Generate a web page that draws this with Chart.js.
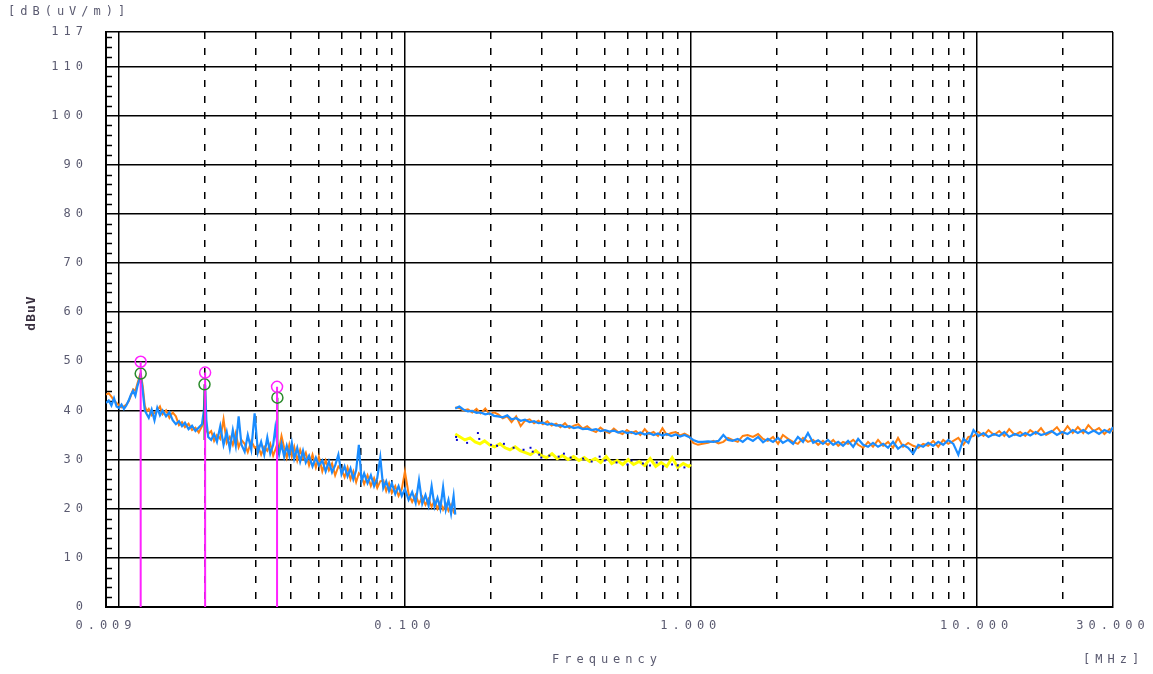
<!DOCTYPE html>
<html>
<head>
<meta charset="utf-8">
<script src="https://cdn.jsdelivr.net/npm/chart.js@4/dist/chart.umd.min.js"></script>
<style>
  html, body { margin: 0; background: #fff; }
  #wrap { width: 1153px; height: 674px; }
</style>
</head>
<body>
<div id="wrap"><canvas id="c" width="1153" height="674"></canvas></div>
<script>
// axis ticks
const xTickValues = [0.009, 0.01, 0.02, 0.03, 0.04, 0.05, 0.06, 0.07, 0.08, 0.09,
  0.1, 0.2, 0.3, 0.4, 0.5, 0.6, 0.7, 0.8, 0.9,
  1, 2, 3, 4, 5, 6, 7, 8, 9,
  10, 20, 30];
const xTickLabels = ['0.009', '', '', '', '', '', '', '', '', '',
  '0.100', '', '', '', '', '', '', '', '',
  '1.000', '', '', '', '', '', '', '', '',
  '10.000', '', '30.000'];
const xSolid = [0.009, 0.01, 0.1, 1, 10, 30];
const yTickValues = [0, 10, 20, 30, 40, 50, 60, 70, 80, 90, 100, 110, 117];

// 9 kHz - 150 kHz scan (MHz, dBuV)
const freqLow = [
  0.0090,0.0092,0.0094,0.0096,0.0098,0.0100,0.0102,0.0104,0.0106,0.0108,
  0.0110,0.0112,0.0114,0.0116,0.0118,0.0119,0.0121,0.0123,0.0125,0.0127,
  0.0130,0.0133,0.0136,0.0139,0.0142,0.0146,0.0150,0.0154,0.0158,0.0162,
  0.0166,0.0170,0.0175,0.0180,0.0185,0.0190,0.0195,0.0198,0.0200,0.0202,
  0.0205,0.0210,0.0215,0.0220,0.0226,0.0232,0.0238,0.0244,0.0250,0.0256,
  0.0262,0.0268,0.0275,0.0282,0.0290,0.0298,0.0306,0.0314,0.0322,0.0330,
  0.0338,0.0346,0.0352,0.0357,0.0363,0.0370,0.0378,0.0386,0.0394,0.0402,
  0.0410,0.0420,0.0430,0.0440,0.0450,0.0462,0.0475,0.0488,0.0500,0.0514,
  0.0528,0.0542,0.0556,0.0570,0.0585,0.0600,0.0615,0.0630,0.0645,0.0660,
  0.0675,0.0690,0.0705,0.0720,0.0740,0.0760,0.0780,0.0800,0.0820,0.0840,
  0.0860,0.0880,0.0900,0.0925,0.0950,0.0975,0.1000,0.1030,0.1060,0.1090,
  0.1120,0.1150,0.1180,0.1210,0.1240,0.1270,0.1300,0.1330,0.1360,0.1390,
  0.1420,0.1450,0.1480,0.1500];
const blueLow = [
  41.5,42.0,41.0,42.5,40.8,40.5,41.2,40.3,41.0,42.0,
  43.2,44.0,43.0,45.0,46.5,47.2,44.0,40.0,39.2,38.5,
  40.2,38.0,40.5,39.0,40.0,38.8,39.6,38.0,37.2,37.8,
  36.8,37.5,36.2,36.9,35.8,36.5,37.2,40.0,45.2,38.0,
  34.6,34.0,35.2,33.6,36.8,33.0,35.6,32.2,36.0,32.8,
  38.8,33.0,31.6,35.0,32.0,39.4,31.5,33.6,31.0,34.5,
  31.2,33.0,36.4,33.5,31.0,33.2,30.6,32.8,30.8,33.4,
  30.2,32.4,29.6,31.8,29.4,30.8,28.6,30.4,28.8,29.8,
  27.6,29.6,27.4,28.8,31.0,27.0,28.6,26.6,28.2,26.0,
  27.8,33.0,25.6,27.2,25.2,26.8,24.6,26.2,30.4,24.2,
  25.6,23.6,25.2,23.0,24.6,22.6,24.0,21.8,23.4,21.2,
  25.8,21.0,22.8,20.6,24.6,20.4,22.2,20.0,24.4,19.8,
  21.8,19.0,22.6,18.8];
const orangeLow = [
  43.2,43.5,42.8,42.0,41.5,41.0,40.6,40.8,41.2,41.8,
  43.0,44.3,44.0,45.5,47.0,47.6,45.0,41.0,39.8,40.3,
  39.0,39.5,40.0,40.8,39.2,40.0,38.5,39.6,38.8,37.0,
  37.6,36.6,37.3,36.0,36.5,35.5,36.8,38.0,44.0,36.0,
  35.2,35.8,33.8,35.0,34.2,38.2,33.4,34.6,33.0,35.4,
  32.5,34.0,33.2,31.5,33.8,32.4,32.8,31.0,32.6,31.8,
  33.2,30.8,32.0,33.0,32.2,34.8,32.4,30.4,33.0,30.6,
  32.6,29.8,32.0,30.2,31.4,28.8,31.0,28.4,30.6,27.6,
  29.8,27.8,29.2,26.8,28.6,28.0,26.4,28.4,26.0,27.6,
  25.4,27.2,26.6,25.0,26.8,24.6,26.2,24.2,25.6,25.8,
  23.6,25.2,23.2,24.6,22.6,24.0,27.6,23.0,21.4,22.8,
  21.0,22.4,20.8,22.0,20.4,21.6,20.0,21.4,19.8,21.0,
  19.6,20.8,19.4,20.2];

// 150 kHz - 30 MHz scan
const freqHigh = [
  0.150,0.155,0.160,0.166,0.172,0.178,0.184,0.191,0.198,0.205,
  0.212,0.220,0.228,0.236,0.245,0.254,0.263,0.273,0.283,0.293,
  0.304,0.315,0.326,0.338,0.350,0.363,0.376,0.390,0.404,0.419,
  0.434,0.450,0.466,0.483,0.501,0.519,0.538,0.557,0.577,0.598,
  0.620,0.643,0.666,0.690,0.715,0.741,0.768,0.796,0.825,0.855,
  0.886,0.918,0.951,0.985,1.020,1.060,1.100,1.150,1.200,1.250,
  1.300,1.350,1.400,1.460,1.520,1.580,1.650,1.720,1.790,1.860,
  1.940,2.020,2.100,2.190,2.280,2.370,2.470,2.570,2.680,2.790,
  2.900,3.020,3.150,3.280,3.410,3.550,3.700,3.850,4.010,4.170,
  4.340,4.520,4.710,4.900,5.100,5.310,5.530,5.760,6.000,6.250,
  6.500,6.770,7.050,7.340,7.640,7.960,8.290,8.630,8.990,9.360,
  9.750,10.15,10.57,11.00,11.50,12.00,12.50,13.00,13.60,14.20,
  14.80,15.40,16.10,16.80,17.50,18.30,19.10,19.90,20.80,21.70,
  22.60,23.60,24.60,25.70,26.80,28.00,29.20,30.00];
const blueHigh = [
  40.4,40.8,40.2,39.8,39.9,39.5,39.6,39.2,39.4,38.9,
  38.8,38.6,39.0,38.2,38.4,37.9,38.1,37.6,37.8,37.4,
  37.5,37.1,37.3,36.9,37.0,36.6,36.8,36.4,36.6,36.2,
  36.3,36.0,36.2,35.8,36.0,35.7,35.9,35.5,35.8,35.4,
  35.6,35.2,35.5,35.1,35.4,35.0,35.3,34.9,35.2,34.8,
  35.1,34.7,35.0,34.6,34.0,33.6,33.6,33.7,33.6,33.8,
  35.0,34.0,33.8,34.2,33.6,34.4,33.8,34.6,33.5,34.2,
  33.6,34.4,33.4,34.0,33.2,34.6,33.6,35.4,33.4,33.9,
  33.2,34.0,33.0,33.6,32.8,33.8,32.6,34.2,33.0,32.6,
  33.4,32.6,33.2,32.4,33.6,32.2,33.0,32.4,31.2,33.0,
  32.6,33.4,32.8,33.6,33.0,34.0,33.2,31.0,34.2,33.4,
  36.0,34.8,35.4,34.6,35.2,34.8,35.6,34.6,35.2,34.8,
  35.4,34.9,35.6,35.0,35.3,35.8,35.0,35.6,35.2,36.0,
  35.4,36.0,35.3,35.9,35.2,36.0,35.5,36.6];
const orangeHigh = [
  40.6,40.5,40.0,40.2,39.6,40.3,39.4,40.4,39.2,39.6,
  39.2,38.4,38.8,37.6,38.8,36.8,37.9,38.2,37.4,37.9,
  37.2,37.8,36.9,37.3,36.6,37.4,36.4,36.9,37.2,36.3,
  36.8,36.0,35.6,36.5,35.8,35.4,36.3,35.6,35.2,36.0,
  35.4,35.8,35.0,36.2,35.2,35.6,34.8,36.4,35.0,35.4,
  35.6,34.9,35.3,34.8,33.4,33.0,33.2,33.4,33.8,33.3,
  33.6,34.4,34.0,33.6,34.8,35.0,34.6,35.2,34.2,33.8,
  34.6,33.2,35.0,34.2,33.6,33.2,34.4,33.6,34.0,33.0,
  33.8,33.0,34.0,32.8,33.6,33.2,34.0,33.0,32.4,33.6,
  32.6,34.0,32.8,33.6,32.4,34.4,32.6,33.4,32.8,32.4,
  33.2,32.8,33.8,32.6,34.0,33.2,33.8,34.4,33.0,34.6,
  34.8,35.6,34.8,36.0,35.0,35.8,34.8,36.2,35.0,35.6,
  34.8,36.0,35.2,36.4,35.0,35.6,36.6,35.2,36.8,35.4,
  36.6,35.4,37.0,35.8,36.4,35.2,36.2,35.8];

// average trace 150 kHz - 1 MHz
const freqAvg = [
  0.150,0.156,0.162,0.169,0.176,0.183,0.190,0.198,0.206,0.215,
  0.224,0.233,0.243,0.253,0.264,0.275,0.287,0.300,0.313,0.327,
  0.341,0.356,0.372,0.389,0.406,0.424,0.443,0.463,0.484,0.506,
  0.529,0.553,0.578,0.604,0.631,0.660,0.690,0.721,0.754,0.788,
  0.824,0.861,0.900,0.941,0.984,1.000];
const yellowAvg = [
  35.2,34.6,34.0,34.4,33.6,33.2,33.8,33.0,32.6,33.2,
  32.4,32.0,32.6,31.8,31.4,31.0,31.8,30.8,30.4,31.2,
  30.2,30.8,30.0,30.6,29.8,30.4,29.6,30.2,29.4,30.6,
  29.2,29.8,29.0,30.0,29.0,29.6,28.8,30.2,28.6,29.4,
  28.6,30.4,28.4,29.2,28.6,29.0];
const dotFreq = [0.151, 0.152, 0.165, 0.180, 0.182, 0.200, 0.210, 0.222, 0.240, 0.260,
  0.275, 0.280, 0.295, 0.300, 0.320, 0.345, 0.360, 0.380, 0.420, 0.450,
  0.480, 0.500, 0.550, 0.600, 0.620, 0.680, 0.720, 0.760, 0.800, 0.860, 0.900, 0.950];
const dotLevel = [34.6, 34.0, 33.4, 35.4, 34.2, 33.0, 32.8, 33.2, 32.4, 32.0,
  32.4, 31.6, 31.0, 30.4, 30.8, 30.6, 31.2, 30.4, 30.2, 29.6,
  30.6, 29.8, 29.4, 29.0, 29.8, 29.2, 28.8, 29.4, 28.6, 29.0, 28.8, 28.4];

// markers
const peakFreq = [0.0119, 0.0200, 0.0357];
const peakLevel = [49.9, 47.7, 44.8];
const qpFreq = [0.0119, 0.0199, 0.0358];
const qpLevel = [47.5, 45.3, 42.6];
const qpBase = [45.5, 34.0, 31.0];

const pts = (xs, ys) => xs.map((x, i) => ({ x: x, y: ys[i] }));
const stems = (xs, lo, hi) => {
  const out = [];
  xs.forEach((x, i) => { out.push({ x: x, y: lo[i] }, { x: x, y: hi[i] }, { x: x, y: null }); });
  return out;
};

const textColor = '#5a5a70';
const monoFont = "'DejaVu Sans Mono', monospace";

const decor = {
  id: 'decor',
  beforeDraw(chart) {
    chart.ctx.letterSpacing = '5px';
  },
  beforeDatasetsDraw(chart) {
    const { ctx, chartArea, scales } = chart;
    const y = scales.y;
    ctx.save();
    ctx.strokeStyle = '#000';
    ctx.lineWidth = 1.5;
    for (let v = 2; v < 117; v += 2) {
      if (v % 10 === 0) continue;
      const py = Math.round(y.getPixelForValue(v)) + 0.5;
      ctx.beginPath();
      ctx.moveTo(chartArea.left, py);
      ctx.lineTo(chartArea.left + 6, py);
      ctx.stroke();
    }
    ctx.restore();
  },
  afterDraw(chart) {
    const ctx = chart.ctx;
    ctx.save();
    ctx.fillStyle = textColor;
    ctx.font = '12px ' + monoFont;
    ctx.letterSpacing = '5px';
    ctx.textBaseline = 'middle';
    ctx.textAlign = 'left';
    ctx.fillText('[dB(uV/m)]', 8, 12);
    ctx.fillText('Frequency', 552, 660);
    ctx.fillText('[MHz]', 1083, 660);
    ctx.translate(32, 313);
    ctx.rotate(-Math.PI / 2);
    ctx.textAlign = 'center';
    ctx.letterSpacing = '1px';
    ctx.fillStyle = '#3a3040';
    ctx.font = 'bold 13px ' + monoFont;
    ctx.fillText('dBuV', 0, 0);
    ctx.restore();
  }
};

const line = (label, data, color, width, order) => ({
  label: label, data: data, borderColor: color, backgroundColor: color,
  borderWidth: width, pointRadius: 0, tension: 0, fill: false, order: order
});

new Chart(document.getElementById('c'), {
  type: 'line',
  data: {
    datasets: [
      line('Orange 9k-150k', pts(freqLow, orangeLow), '#ff8010', 2, 9),
      line('Blue 9k-150k', pts(freqLow, blueLow), '#1a8cff', 2.2, 8),
      line('Orange 150k-30M', pts(freqHigh, orangeHigh), '#ff8010', 2, 9),
      line('Blue 150k-30M', pts(freqHigh, blueHigh), '#1a8cff', 2.2, 8),
      line('Average', pts(freqAvg, yellowAvg), '#ffff00', 3, 7),
      {
        type: 'scatter', label: 'Average points', data: pts(dotFreq, dotLevel),
        pointStyle: 'rect', pointRadius: 1.4, backgroundColor: '#0000cc', borderWidth: 0, order: 6
      },
      line('QP stems', stems(qpFreq, qpBase, qpLevel), '#1f7a1f', 2, 5),
      line('Peak stems', stems(peakFreq, peakLevel.map(() => 0), peakLevel), '#ff22ff', 2, 4),
      {
        type: 'scatter', label: 'QP', data: pts(qpFreq, qpLevel),
        pointStyle: 'circle', pointRadius: 5.5, borderColor: '#2a8a2a',
        backgroundColor: 'rgba(0,0,0,0)', borderWidth: 1.5, order: 3
      },
      {
        type: 'scatter', label: 'Peak', data: pts(peakFreq, peakLevel),
        pointStyle: 'circle', pointRadius: 5.5, borderColor: '#ff22ff',
        backgroundColor: 'rgba(0,0,0,0)', borderWidth: 1.5, order: 2
      }
    ]
  },
  options: {
    responsive: false,
    animation: false,
    devicePixelRatio: 1,
    layout: { padding: { top: 32, right: 40, left: 0, bottom: 0 } },
    plugins: { legend: { display: false }, tooltip: { enabled: false } },
    scales: {
      x: {
        type: 'logarithmic',
        min: 0.009,
        max: 30,
        afterBuildTicks: (axis) => { axis.ticks = xTickValues.map(v => ({ value: v })); },
        afterFit: (axis) => { axis.height = 67; },
        ticks: {
          autoSkip: false, maxRotation: 0, padding: 12,
          color: textColor, font: { family: monoFont, size: 12 },
          callback: (value, index) => xTickLabels[index]
        },
        grid: { color: '#000', lineWidth: 1.5, drawTicks: false },
        border: {
          color: '#000', width: 2,
          dash: (ctx) => (ctx.tick && !xSolid.includes(ctx.tick.value)) ? [7, 9] : []
        }
      },
      y: {
        min: 0,
        max: 117,
        afterBuildTicks: (axis) => { axis.ticks = yTickValues.map(v => ({ value: v })); },
        afterFit: (axis) => { axis.width = 106; },
        ticks: {
          padding: 18, color: textColor, font: { family: monoFont, size: 12 }
        },
        grid: { color: '#000', lineWidth: 1.5, drawTicks: false },
        border: { color: '#000', width: 2 }
      }
    }
  },
  plugins: [decor]
});
</script>
</body>
</html>
